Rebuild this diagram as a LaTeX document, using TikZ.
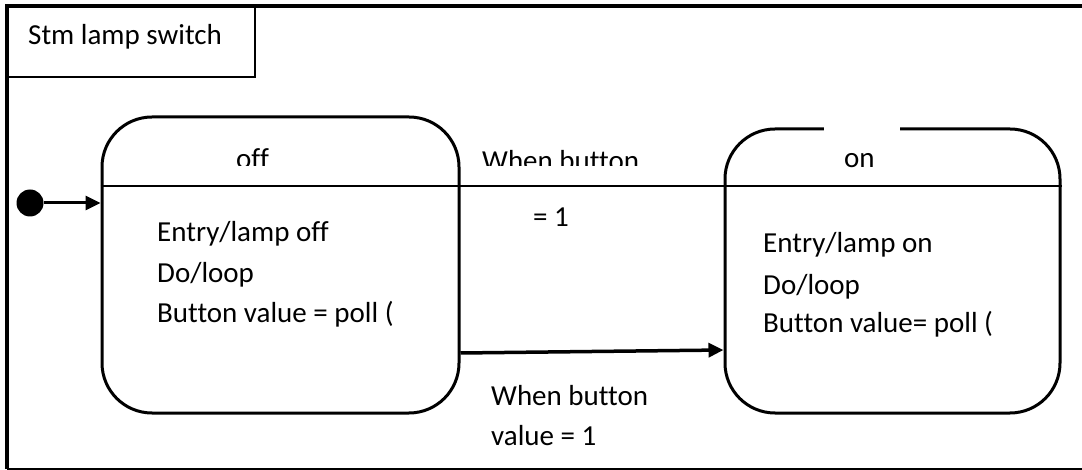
\documentclass[tikz,border=0pt]{standalone}
\usepackage{fontspec}
\setmainfont{Carlito}[Ligatures=CommonOff]
\usetikzlibrary{arrows.meta}
\begin{document}
\begin{tikzpicture}[x=1pt,y=-1pt,
  txt/.style={inner sep=0pt, anchor=base west, font=\fontsize{29pt}{35pt}\selectfont},
  statebox/.style={draw, line width=3pt, rounded corners=50pt, inner sep=0pt},
  trans/.style={line width=3pt, -{Triangle[length=15pt,width=14pt]}},
  divider/.style={line width=1.5pt}
]
\useasboundingbox (0,0) rectangle (1082,470);
% outer frame
\draw[line width=4pt] (1082,6) -- (7,6) -- (7,468.5);
\draw[line width=2pt] (7,468.5) -- (1082,468.5);
% title tab
\draw[line width=1.5pt] (7,6) rectangle (255,77);
\node[txt] (title) at (28,45) {Stm lamp switch};
% states
\node[statebox, minimum width=357pt, minimum height=296pt] (off) at (280.5,265) {};
\node[statebox, minimum width=335pt, minimum height=284pt] (on) at (892.5,271) {};
\fill[white] (824,124) rectangle (900,133);
% divider line
\draw[divider] (off.west |- 0,186) -- (on.east |- 0,186);
% clipped headers
\begin{scope}
  \clip (150,100) rectangle (700,165.5);
  \node[txt] (offlabel) at (236,169) {off};
  \node[txt] (lbltop) at (482,171) {When button};
\end{scope}
\node[txt] (onlabel) at (844,168) {on};
\node[txt] (lbltop2) at (533,227) {= 1};
% off body
\node[txt] (off1) at (157,242) {Entry/lamp off};
\node[txt] (off2) at (157,283) {Do/loop};
\node[txt] (off3) at (157,323) {Button value = poll (};
% on body
\node[txt] (on1) at (763,253) {Entry/lamp on};
\node[txt] (on2) at (763,295) {Do/loop};
\node[txt] (on3) at (763,333) {Button value= poll (};
% initial
\node[circle, fill, inner sep=0pt, minimum size=27pt] (init) at (30,203) {};
\draw[trans] (init) -- (off.west |- init);
% transition
\draw[trans, line width=3.5pt] ([yshift=-88pt]off.east) -- ([yshift=-79pt]on.west);
\node[txt] (lblbot1) at (491,405) {When button};
\node[txt] (lblbot2) at (491,445) {value = 1};
\end{tikzpicture}
\end{document}
